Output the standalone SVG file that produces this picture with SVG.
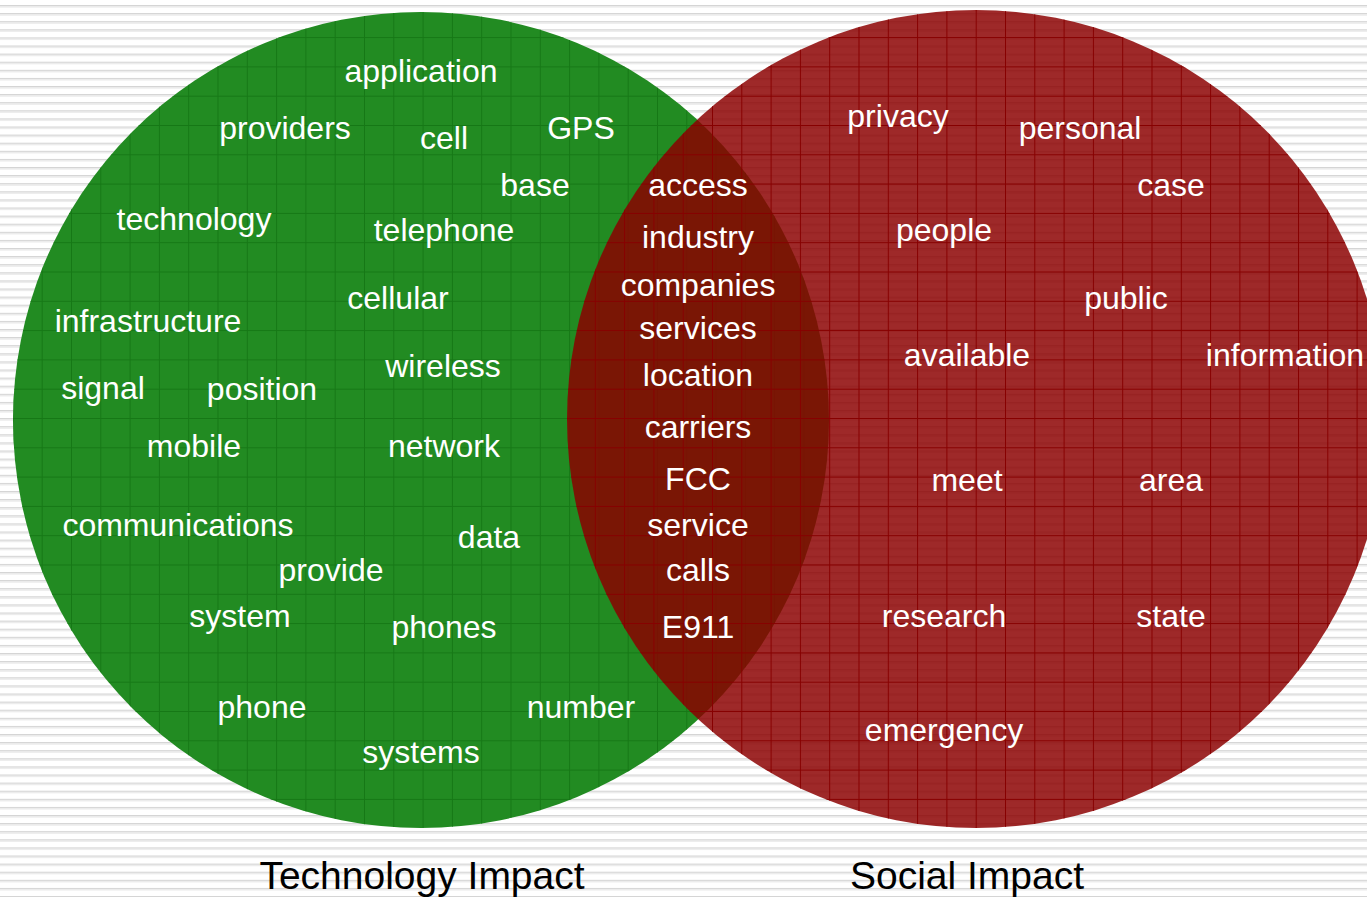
<svg xmlns="http://www.w3.org/2000/svg" width="1367" height="897" viewBox="0 0 1367 897">
  <defs>
    <pattern id="stripes" x="0" y="5" width="20" height="8.1" patternUnits="userSpaceOnUse">
      <rect x="0" y="0" width="20" height="8.1" fill="#ffffff"/>
      <rect x="0" y="0" width="20" height="1.2" fill="#d4d4d4"/>
      <rect x="0" y="1.2" width="20" height="1.3" fill="#e9e9e9"/>
    </pattern>
    <pattern id="gridG" x="12.4" y="7.8" width="29.3" height="29.3" patternUnits="userSpaceOnUse">
      <path d="M0 0.5 H29.3 M0.5 0 V29.3" stroke="#167816" stroke-width="1" fill="none"/>
    </pattern>
    <pattern id="gridR" x="8.8" y="7.8" width="29.3" height="29.3" patternUnits="userSpaceOnUse">
      <path d="M0 0.5 H29.3 M0.5 0 V29.3" stroke="#870000" stroke-width="1" fill="none"/>
    </pattern>
  </defs>
  <style>
    .w { font-family: "Liberation Sans", Arial, sans-serif; font-size: 32px; fill: #ffffff; text-anchor: middle; }
    .lbl { font-family: "Liberation Sans", Arial, sans-serif; font-size: 39px; fill: #000000; text-anchor: middle; }
  </style>

  <rect x="0" y="0" width="1367" height="897" fill="url(#stripes)"/>

  <g id="technology-impact-circle">
    <circle cx="421" cy="420" r="408" fill="#228B22"/>
    <circle cx="421" cy="420" r="408" fill="url(#gridG)"/>
  </g>

  <g id="social-impact-circle">
    <circle cx="976" cy="419" r="409" fill="#8B0000" fill-opacity="0.84"/>
    <circle cx="976" cy="419" r="409" fill="url(#gridR)"/>
  </g>

  <g id="technology-words" class="words">
    <text class="w" x="421" y="82">application</text>
    <text class="w" x="285" y="139">providers</text>
    <text class="w" x="444" y="149">cell</text>
    <text class="w" x="581" y="139">GPS</text>
    <text class="w" x="535" y="196">base</text>
    <text class="w" x="194" y="230">technology</text>
    <text class="w" x="444" y="241">telephone</text>
    <text class="w" x="398" y="309">cellular</text>
    <text class="w" x="148" y="332">infrastructure</text>
    <text class="w" x="443" y="377">wireless</text>
    <text class="w" x="103" y="399">signal</text>
    <text class="w" x="262" y="400">position</text>
    <text class="w" x="194" y="457">mobile</text>
    <text class="w" x="444" y="457">network</text>
    <text class="w" x="178" y="536">communications</text>
    <text class="w" x="489" y="548">data</text>
    <text class="w" x="331" y="581">provide</text>
    <text class="w" x="240" y="627">system</text>
    <text class="w" x="444" y="638">phones</text>
    <text class="w" x="262" y="718">phone</text>
    <text class="w" x="581" y="718">number</text>
    <text class="w" x="421" y="763">systems</text>
  </g>

  <g id="shared-words" class="words">
    <text class="w" x="698" y="196">access</text>
    <text class="w" x="698" y="248">industry</text>
    <text class="w" x="698" y="296">companies</text>
    <text class="w" x="698" y="339">services</text>
    <text class="w" x="698" y="386">location</text>
    <text class="w" x="698" y="438">carriers</text>
    <text class="w" x="698" y="490">FCC</text>
    <text class="w" x="698" y="536">service</text>
    <text class="w" x="698" y="581">calls</text>
    <text class="w" x="698" y="638">E911</text>
  </g>

  <g id="social-words" class="words">
    <text class="w" x="898" y="127">privacy</text>
    <text class="w" x="1080" y="139">personal</text>
    <text class="w" x="1171" y="196">case</text>
    <text class="w" x="944" y="241">people</text>
    <text class="w" x="1126" y="309">public</text>
    <text class="w" x="967" y="366">available</text>
    <text class="w" x="1285" y="366">information</text>
    <text class="w" x="967" y="491">meet</text>
    <text class="w" x="1171" y="491">area</text>
    <text class="w" x="944" y="627">research</text>
    <text class="w" x="1171" y="627">state</text>
    <text class="w" x="944" y="741">emergency</text>
  </g>

  <g id="labels">
    <text class="lbl" x="422" y="889">Technology Impact</text>
    <text class="lbl" x="967" y="889">Social Impact</text>
  </g>
</svg>
